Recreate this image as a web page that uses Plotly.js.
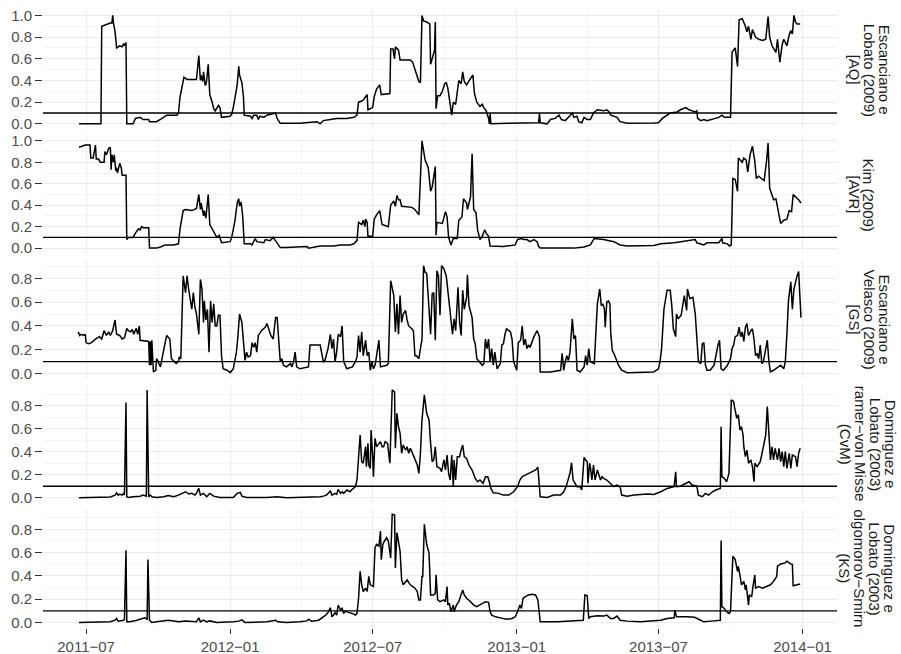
<!DOCTYPE html>
<html>
<head>
<meta charset="utf-8">
<script src="https://cdn.plot.ly/plotly-3.0.1.min.js"></script>
<style>html,body{margin:0;padding:0;background:#fff;}#chart{width:901px;height:654px;}</style>
</head>
<body>
<div id="chart"></div>
<script>
// Day offsets counted from 2011-07-01, value = p-value
const baseDate = '2011-07-01';

const aqPoints = [[-9,0],[19,0],[20,0.90],[26,0.92],[31,0.93],[33,0.93],[34,1.0],[35,0.93],[37,0.85],[39,0.70],[43,0.72],[46,0.71],[48,0.74],[49,0.72],[51,0.75],[52,0.0],[60,0.0],[63,0.05],[69,0.06],[73,0.04],[80,0.04],[81,0.02],[90,0.02],[97,0.05],[101,0.07],[103,0.08],[116,0.08],[118,0.10],[120,0.25],[124,0.40],[125,0.43],[129,0.41],[141,0.41],[144,0.63],[146,0.40],[147,0.45],[149,0.39],[150,0.48],[152,0.36],[153,0.36],[154,0.40],[156,0.55],[158,0.27],[161,0.20],[163,0.14],[165,0.12],[169,0.17],[171,0.15],[173,0.06],[184,0.07],[186,0.09],[188,0.15],[190,0.25],[193,0.36],[195,0.53],[196,0.45],[199,0.38],[201,0.25],[202,0.08],[210,0.07],[212,0.05],[214,0.08],[218,0.08],[220,0.04],[222,0.07],[227,0.06],[231,0.08],[239,0.09],[242,0.10],[244,0.05],[248,0.005],[273,0.005],[286,0.01],[295,0.02],[299,0.0],[303,0.03],[312,0.04],[320,0.05],[333,0.05],[342,0.06],[346,0.08],[348,0.20],[352,0.21],[354,0.22],[357,0.25],[359,0.27],[360,0.13],[366,0.15],[368,0.25],[371,0.32],[375,0.36],[377,0.27],[388,0.28],[389,0.69],[392,0.69],[394,0.60],[395,0.71],[399,0.68],[401,0.59],[414,0.59],[417,0.57],[420,0.50],[425,0.39],[427,0.38],[429,1.0],[431,0.95],[435,0.94],[439,0.92],[440,0.55],[442,0.60],[445,0.68],[446,0.94],[447,0.14],[449,0.26],[452,0.26],[455,0.30],[458,0.37],[460,0.38],[462,0.33],[467,0.08],[469,0.20],[472,0.18],[476,0.40],[479,0.37],[481,0.48],[483,0.39],[486,0.36],[491,0.42],[494,0.45],[496,0.28],[499,0.20],[503,0.16],[506,0.18],[508,0.15],[511,0.12],[514,0.05],[515,0.0],[516,0.10],[517,0.0],[538,0.005],[567,0.01],[578,0.01],[579,0.10],[580,0.01],[589,0.0],[593,0.04],[599,0.05],[604,0.08],[607,0.04],[612,0.03],[616,0.06],[621,0.10],[623,0.06],[627,0.07],[629,0.02],[633,0.01],[636,0.06],[640,0.04],[644,0.04],[648,0.10],[653,0.13],[661,0.12],[665,0.13],[668,0.11],[670,0.08],[678,0.06],[682,0.02],[691,0.005],[725,0.008],[731,0.01],[736,0.05],[742,0.08],[746,0.10],[755,0.11],[759,0.13],[766,0.15],[770,0.13],[774,0.12],[778,0.11],[780,0.12],[781,0.05],[785,0.03],[789,0.04],[793,0.03],[802,0.05],[808,0.06],[812,0.08],[815,0.06],[823,0.06],[825,0.66],[829,0.70],[832,0.53],[834,0.96],[838,0.97],[842,0.90],[844,0.85],[846,0.90],[849,0.78],[851,0.87],[855,0.80],[859,0.78],[864,0.77],[868,0.78],[871,0.99],[873,0.80],[876,0.72],[881,0.66],[883,0.78],[886,0.57],[889,0.73],[891,0.78],[895,0.72],[898,0.82],[900,0.86],[902,0.83],[904,1.0],[906,0.94],[908,0.92],[912,0.92]];

const avrPoints = [[-9,0.94],[-1,0.96],[5,0.96],[6,0.84],[9,0.84],[12,0.96],[13,0.83],[16,0.83],[18,0.80],[23,0.80],[24,0.90],[26,0.87],[29,0.93],[31,0.94],[32,0.73],[33,0.87],[35,0.80],[36,0.87],[38,0.72],[39,0.75],[40,0.70],[43,0.79],[45,0.75],[46,0.68],[51,0.68],[52,0.08],[54,0.10],[60,0.10],[63,0.14],[67,0.18],[69,0.17],[71,0.20],[73,0.19],[80,0.19],[81,0.0],[90,0.0],[95,0.01],[101,0.03],[112,0.03],[118,0.04],[120,0.18],[124,0.35],[127,0.36],[135,0.35],[141,0.37],[144,0.50],[146,0.36],[147,0.42],[150,0.30],[151,0.35],[153,0.28],[156,0.50],[158,0.22],[161,0.18],[163,0.14],[165,0.12],[167,0.10],[170,0.12],[173,0.05],[184,0.06],[186,0.10],[190,0.25],[193,0.42],[195,0.46],[196,0.39],[198,0.43],[200,0.30],[202,0.04],[210,0.04],[212,0.03],[216,0.09],[218,0.06],[227,0.05],[229,0.08],[235,0.07],[239,0.10],[244,0.05],[248,0.005],[256,0.005],[273,0.01],[282,0.015],[284,0.0],[291,0.01],[299,0.02],[316,0.02],[325,0.03],[337,0.03],[342,0.04],[346,0.07],[348,0.24],[352,0.22],[354,0.26],[356,0.20],[357,0.27],[359,0.24],[360,0.11],[366,0.11],[368,0.27],[371,0.31],[375,0.35],[378,0.22],[386,0.20],[389,0.40],[393,0.44],[395,0.39],[397,0.49],[399,0.45],[401,0.45],[403,0.39],[416,0.38],[420,0.36],[425,0.31],[429,1.0],[433,0.82],[437,0.75],[440,0.53],[442,0.57],[445,0.69],[446,0.76],[447,0.12],[448,0.24],[455,0.23],[457,0.30],[459,0.34],[461,0.29],[463,0.10],[466,0.03],[469,0.09],[474,0.09],[476,0.26],[480,0.29],[482,0.46],[486,0.42],[487,0.36],[491,0.48],[493,0.88],[495,0.36],[498,0.33],[500,0.17],[503,0.08],[506,0.11],[509,0.17],[511,0.14],[514,0.11],[516,0.02],[533,0.015],[548,0.03],[551,0.08],[555,0.09],[559,0.08],[563,0.08],[567,0.06],[572,0.08],[576,0.06],[578,0.015],[580,0.0],[623,0.0],[636,0.01],[644,0.03],[649,0.09],[661,0.08],[668,0.07],[674,0.06],[682,0.03],[691,0.02],[725,0.025],[734,0.04],[751,0.05],[768,0.07],[778,0.08],[780,0.05],[789,0.03],[793,0.05],[808,0.05],[812,0.09],[813,0.05],[819,0.04],[822,0.02],[824,0.03],[826,0.65],[829,0.64],[832,0.53],[833,0.84],[838,0.80],[840,0.84],[843,0.82],[845,0.71],[848,0.87],[851,0.95],[854,0.81],[856,0.65],[859,0.67],[864,0.64],[866,0.63],[869,0.81],[871,0.98],[873,0.56],[876,0.50],[878,0.45],[881,0.46],[883,0.39],[885,0.29],[887,0.23],[891,0.26],[895,0.27],[898,0.35],[901,0.34],[903,0.50],[906,0.48],[910,0.45],[913,0.42]];

const gsPoints = [[-10,0.35],[-8,0.32],[-6,0.33],[-3,0.32],[-1,0.33],[0,0.26],[3,0.25],[7,0.26],[12,0.29],[17,0.31],[20,0.29],[23,0.36],[26,0.32],[29,0.35],[31,0.32],[34,0.36],[37,0.45],[39,0.33],[43,0.32],[46,0.29],[49,0.30],[52,0.38],[54,0.36],[57,0.35],[59,0.37],[61,0.33],[64,0.38],[66,0.33],[68,0.40],[69,0.28],[80,0.27],[81,0.07],[82,0.27],[83,0.07],[84,0.28],[86,0.014],[89,0.028],[90,0.125],[92,0.10],[95,0.056],[97,0.125],[99,0.18],[101,0.26],[103,0.32],[107,0.29],[109,0.125],[115,0.084],[118,0.10],[119,0.14],[121,0.125],[122,0.36],[124,0.82],[127,0.68],[129,0.82],[131,0.71],[133,0.63],[135,0.54],[137,0.68],[139,0.56],[141,0.50],[144,0.33],[146,0.79],[148,0.71],[150,0.43],[151,0.61],[153,0.45],[155,0.54],[157,0.18],[159,0.61],[161,0.43],[163,0.585],[165,0.40],[167,0.40],[169,0.49],[171,0.49],[173,0.15],[175,0.04],[180,0.028],[184,0.008],[188,0.04],[190,0.125],[192,0.18],[194,0.32],[196,0.50],[199,0.43],[201,0.24],[203,0.11],[205,0.18],[207,0.14],[210,0.15],[212,0.26],[214,0.22],[216,0.26],[218,0.18],[220,0.32],[224,0.36],[229,0.39],[231,0.42],[233,0.376],[236,0.32],[239,0.29],[242,0.47],[244,0.47],[246,0.24],[248,0.10],[250,0.125],[252,0.07],[256,0.056],[261,0.084],[263,0.056],[265,0.10],[267,0.18],[269,0.056],[273,0.04],[282,0.056],[284,0.056],[286,0.24],[299,0.24],[301,0.17],[303,0.10],[305,0.11],[307,0.17],[309,0.21],[312,0.33],[314,0.21],[316,0.29],[318,0.10],[320,0.18],[322,0.33],[325,0.31],[327,0.40],[329,0.10],[333,0.04],[340,0.056],[344,0.10],[346,0.14],[348,0.32],[350,0.18],[352,0.35],[354,0.15],[357,0.28],[359,0.15],[361,0.18],[363,0.028],[365,0.10],[367,0.04],[369,0.07],[371,0.15],[374,0.28],[376,0.056],[384,0.07],[386,0.084],[389,0.78],[393,0.655],[395,0.35],[397,0.585],[399,0.33],[401,0.655],[403,0.43],[405,0.50],[408,0.53],[410,0.45],[412,0.40],[416,0.376],[418,0.36],[420,0.15],[422,0.15],[425,0.125],[426,0.18],[428,0.25],[429,0.28],[431,0.906],[433,0.85],[435,0.84],[438,0.54],[440,0.33],[442,0.67],[444,0.68],[446,0.28],[448,0.864],[450,0.82],[452,0.49],[454,0.906],[457,0.88],[460,0.82],[463,0.655],[466,0.49],[468,0.33],[470,0.46],[472,0.36],[475,0.725],[477,0.43],[479,0.32],[481,0.70],[483,0.54],[486,0.64],[487,0.83],[489,0.57],[493,0.47],[495,0.29],[497,0.25],[499,0.125],[501,0.11],[506,0.07],[508,0.084],[510,0.29],[512,0.21],[514,0.29],[516,0.10],[518,0.21],[520,0.07],[522,0.18],[525,0.04],[529,0.084],[531,0.24],[533,0.25],[535,0.33],[537,0.376],[542,0.35],[544,0.29],[546,0.10],[550,0.028],[552,0.26],[555,0.28],[557,0.40],[559,0.24],[561,0.29],[563,0.21],[565,0.24],[567,0.22],[572,0.31],[576,0.36],[579,0.31],[580,0.014],[593,0.014],[606,0.028],[608,0.17],[610,0.028],[612,0.10],[614,0.15],[616,0.11],[618,0.18],[621,0.46],[623,0.29],[625,0.32],[627,0.028],[631,0.014],[636,0.056],[638,0.15],[640,0.07],[642,0.21],[644,0.10],[649,0.084],[650,0.24],[653,0.585],[656,0.71],[658,0.57],[660,0.585],[662,0.54],[663,0.39],[665,0.60],[667,0.61],[669,0.585],[670,0.35],[672,0.195],[674,0.17],[678,0.11],[680,0.07],[684,0.028],[691,0.008],[725,0.014],[731,0.04],[733,0.10],[735,0.21],[738,0.54],[742,0.70],[746,0.70],[748,0.57],[750,0.376],[753,0.31],[754,0.50],[756,0.46],[760,0.49],[763,0.63],[764,0.655],[767,0.53],[768,0.71],[771,0.63],[775,0.64],[778,0.50],[780,0.26],[782,0.10],[785,0.084],[787,0.25],[789,0.26],[791,0.07],[793,0.028],[797,0.028],[802,0.07],[805,0.18],[807,0.24],[809,0.28],[811,0.04],[814,0.028],[819,0.07],[823,0.125],[825,0.21],[827,0.24],[829,0.31],[832,0.32],[834,0.39],[836,0.31],[838,0.35],[840,0.27],[842,0.39],[844,0.42],[846,0.32],[849,0.36],[851,0.376],[853,0.29],[855,0.15],[857,0.17],[859,0.125],[861,0.24],[863,0.084],[865,0.10],[866,0.14],[870,0.28],[872,0.10],[874,0.014],[878,0.028],[887,0.07],[891,0.04],[893,0.10],[895,0.33],[897,0.61],[900,0.77],[902,0.54],[904,0.71],[906,0.77],[908,0.82],[910,0.856],[913,0.47]];

const cvmPoints = [[-9,0],[14,0],[31,0.006],[37,0.023],[39,0.043],[41,0.023],[43,0.032],[46,0.023],[48,0.038],[49,0.023],[51,0.826],[52,0.009],[54,0.003],[60,0.009],[69,0.014],[73,0.023],[77,0.014],[78,0.936],[80,0.009],[82,0.023],[84,0.009],[90,0.003],[99,0.009],[105,0.02],[112,0.009],[118,0.023],[122,0.038],[127,0.052],[131,0.032],[135,0.038],[139,0.023],[141,0.038],[144,0.081],[146,0.023],[150,0.038],[154,0.009],[158,0.038],[163,0.014],[171,0.003],[188,0.003],[193,0.038],[197,0.046],[199,0.014],[205,0.003],[231,0.003],[244,0.009],[256,0],[282,0.003],[299,0.009],[303,0.014],[307,0.023],[312,0.058],[314,0.023],[318,0.038],[320,0.029],[322,0.072],[325,0.038],[327,0.052],[329,0.038],[333,0.067],[337,0.052],[339,0.067],[342,0.081],[344,0.096],[346,0.154],[348,0.33],[350,0.545],[352,0.313],[354,0.30],[357,0.443],[358,0.27],[360,0.472],[361,0.284],[363,0.255],[364,0.588],[366,0.357],[367,0.183],[369,0.516],[371,0.443],[376,0.487],[378,0.443],[380,0.443],[382,0.487],[385,0.472],[388,0.30],[391,0.936],[394,0.92],[395,0.429],[397,0.733],[399,0.617],[401,0.559],[403,0.386],[405,0.458],[408,0.414],[410,0.443],[412,0.386],[414,0.429],[416,0.40],[418,0.371],[423,0.284],[425,0.212],[427,0.386],[429,0.675],[432,0.893],[435,0.733],[438,0.675],[440,0.472],[442,0.313],[444,0.328],[446,0.443],[448,0.27],[452,0.255],[454,0.226],[457,0.33],[459,0.241],[461,0.371],[463,0.212],[465,0.154],[467,0.371],[469,0.096],[470,0.328],[472,0.154],[474,0.357],[477,0.357],[479,0.414],[481,0.458],[483,0.357],[486,0.342],[489,0.284],[493,0.241],[497,0.168],[500,0.139],[503,0.154],[507,0.125],[510,0.183],[513,0.183],[515,0.139],[517,0.081],[520,0.043],[527,0.038],[533,0.023],[540,0.023],[546,0.052],[551,0.096],[554,0.154],[557,0.183],[561,0.197],[565,0.212],[569,0.226],[574,0.241],[577,0.264],[579,0.096],[580,0.009],[589,0.003],[597,0.023],[606,0.023],[610,0.052],[613,0.096],[616,0.154],[618,0.212],[620,0.304],[622,0.154],[627,0.096],[631,0.096],[633,0.067],[636,0.351],[638,0.328],[640,0.313],[641,0.125],[643,0.30],[644,0.27],[646,0.154],[648,0.284],[650,0.154],[653,0.241],[655,0.197],[657,0.154],[659,0.183],[661,0.168],[665,0.154],[670,0.125],[674,0.096],[678,0.11],[682,0.096],[684,0.023],[691,0.014],[700,0.023],[717,0.032],[725,0.029],[734,0.052],[742,0.081],[751,0.096],[753,0.226],[754,0.096],[759,0.10],[766,0.125],[770,0.139],[774,0.11],[780,0.10],[782,0.023],[787,0.009],[791,0.038],[795,0.023],[800,0.052],[804,0.067],[810,0.081],[811,0.617],[812,0.183],[815,0.168],[818,0.139],[821,0.212],[824,0.849],[827,0.835],[828,0.791],[831,0.69],[833,0.719],[835,0.588],[837,0.617],[839,0.545],[840,0.443],[842,0.357],[844,0.414],[846,0.30],[849,0.328],[851,0.27],[853,0.139],[854,0.30],[857,0.27],[861,0.313],[865,0.443],[868,0.545],[870,0.791],[872,0.53],[874,0.328],[876,0.443],[878,0.328],[880,0.429],[883,0.328],[885,0.429],[887,0.313],[889,0.40],[891,0.27],[893,0.40],[895,0.255],[898,0.386],[900,0.255],[902,0.371],[906,0.357],[908,0.27],[910,0.386],[912,0.429]];

const ksPoints = [[-9,0],[18,0],[31,0.006],[37,0.02],[39,0.035],[41,0.012],[48,0.02],[49,0.029],[51,0.62],[52,0.006],[56,0.006],[65,0.02],[71,0.035],[75,0.04],[78,0.029],[79,0.54],[81,0.02],[84,0],[90,0.006],[105,0.02],[112,0.014],[118,0.006],[127,0.014],[141,0.006],[144,0.04],[146,0.006],[150,0.02],[154,0.006],[158,0.014],[167,0],[188,0.006],[195,0.012],[199,0.023],[203,0],[231,0.006],[242,0.02],[245,0.006],[256,0],[273,0.006],[282,0.014],[284,0.029],[288,0.012],[297,0.02],[301,0.035],[303,0.049],[307,0.069],[309,0.087],[312,0.127],[314,0.049],[316,0.064],[318,0.087],[320,0.064],[322,0.15],[325,0.107],[327,0.121],[329,0.078],[331,0.098],[335,0.087],[340,0.078],[344,0.064],[346,0.078],[348,0.208],[350,0.44],[352,0.324],[354,0.266],[357,0.295],[359,0.266],[361,0.396],[363,0.324],[367,0.309],[369,0.642],[371,0.67],[374,0.656],[376,0.786],[377,0.54],[379,0.67],[381,0.70],[384,0.728],[386,0.70],[389,0.555],[391,0.93],[394,0.925],[395,0.468],[397,0.772],[399,0.70],[401,0.613],[403,0.367],[405,0.324],[410,0.367],[414,0.324],[420,0.295],[423,0.266],[425,0.194],[427,0.194],[429,0.396],[430,0.396],[432,0.844],[435,0.67],[438,0.598],[440,0.237],[444,0.237],[446,0.251],[447,0.41],[449,0.194],[452,0.179],[457,0.194],[459,0.179],[461,0.309],[462,0.15],[464,0.165],[466,0.092],[469,0.15],[470,0.092],[473,0.15],[476,0.179],[479,0.237],[481,0.28],[483,0.237],[486,0.208],[491,0.179],[495,0.15],[499,0.136],[503,0.15],[507,0.165],[510,0.179],[514,0.173],[516,0.092],[518,0.064],[523,0.049],[529,0.04],[537,0.029],[544,0.035],[548,0.049],[551,0.092],[554,0.15],[556,0.121],[558,0.208],[561,0.223],[565,0.237],[570,0.243],[574,0.237],[577,0.194],[579,0.02],[580,0.006],[602,0.006],[623,0.014],[635,0.02],[637,0.237],[640,0.231],[642,0.035],[644,0.049],[653,0.058],[661,0.055],[665,0.064],[670,0.035],[674,0.035],[678,0.055],[682,0.02],[691,0.012],[708,0.006],[725,0.012],[734,0.02],[742,0.035],[751,0.04],[752,0.107],[754,0.049],[768,0.049],[777,0.046],[783,0.026],[789,0.006],[798,0.012],[806,0.02],[810,0.02],[811,0.705],[812,0.136],[815,0.121],[818,0.092],[821,0.078],[823,0.092],[826,0.569],[829,0.54],[832,0.44],[833,0.483],[835,0.41],[837,0.324],[840,0.353],[842,0.28],[843,0.324],[846,0.15],[847,0.237],[850,0.223],[852,0.324],[854,0.41],[855,0.295],[859,0.309],[864,0.295],[868,0.309],[874,0.324],[878,0.353],[882,0.396],[883,0.483],[887,0.503],[893,0.512],[895,0.526],[900,0.503],[902,0.50],[903,0.315],[906,0.32],[910,0.33],[912,0.33]];

const stripLabels = [
  ['Escanciano e', 'Lobato (2009)', '[AQ]'],
  ['Kim (2009)', '[AVR]'],
  ['Escanciano e', 'Velasco (2009)', '[GS]'],
  ['Dominguez e', 'Lobato (2003)', 'ramer\u2212von Misse', '(CvM)'],
  ['Dominguez e', 'Lobato (2003)', 'olgomorov\u2212Smirn', '(KS)']
];
const threshold = 0.1;
const xTickDates = ['2011-07-01', '2012-01-01', '2012-07-01', '2013-01-01', '2013-07-01', '2014-01-01'];
const xTickLabels = ['2011\u221207', '2012\u221201', '2012\u221207', '2013\u221201', '2013\u221207', '2014\u221201'];
const xMinorDates = ['2011-04-01', '2011-10-01', '2012-04-01', '2012-10-01', '2013-04-01', '2013-10-01'];
const yTicksHigh = [0, 0.2, 0.4, 0.6, 0.8, 1.0];
const yTicksLow = [0, 0.2, 0.4, 0.6, 0.8];

// ---- build figure ----
const base = Date.parse(baseDate + 'T00:00:00Z');
const toDate = d => new Date(base + d * 86400000).toISOString().slice(0, 10);

const series = [aqPoints, avrPoints, gsPoints, cvmPoints, ksPoints];
const domains = [[0.807, 1.0], [0.606, 0.797], [0.403, 0.595], [0.202, 0.394], [0.0, 0.193]];
const ranges = [[-0.05, 1.05], [-0.05, 1.05], [-0.045, 0.951], [-0.047, 0.983], [-0.047, 0.977]];
const tickSets = [yTicksHigh, yTicksHigh, yTicksLow, yTicksLow, yTicksLow];
const stripPx = [[884, 869, 854], [869, 855], [884, 869, 854], [890, 875, 860, 845], [890, 875, 860, 845]];

const font = 'Liberation Sans, Arial, Helvetica, sans-serif';
const gridCol = '#EBEBEB';

const traces = series.map((pts, i) => ({
  type: 'scatter',
  mode: 'lines',
  x: pts.map(p => toDate(p[0])),
  y: pts.map(p => p[1]),
  xaxis: 'x',
  yaxis: i === 0 ? 'y' : 'y' + (i + 1),
  line: {color: '#000000', width: 1.5},
  hoverinfo: 'skip'
}));

const layout = {
  width: 901, height: 654,
  margin: {l: 43, r: 64, t: 10, b: 26, pad: 0},
  paper_bgcolor: '#ffffff',
  plot_bgcolor: '#ffffff',
  showlegend: false,
  font: {family: font, size: 15, color: '#4D4D4D'},
  xaxis: {
    type: 'date',
    anchor: 'y5',
    range: ['2011-05-07', '2014-02-14'],
    tickmode: 'array',
    tickvals: xTickDates,
    ticktext: xTickLabels,
    ticks: 'outside', ticklen: 5, tickwidth: 1, tickcolor: '#333333',
    showgrid: true, gridcolor: gridCol, gridwidth: 1.1,
    minor: {tickmode: 'array', tickvals: xMinorDates, showgrid: true, gridcolor: gridCol, gridwidth: 0.55, ticks: ''},
    zeroline: false, showline: false,
    tickfont: {family: font, size: 15, color: '#4D4D4D'}
  },
  shapes: [],
  annotations: []
};

for (let i = 0; i < 5; i++) {
  const key = i === 0 ? 'yaxis' : 'yaxis' + (i + 1);
  const ref = i === 0 ? 'y' : 'y' + (i + 1);
  layout[key] = {
    domain: domains[i],
    range: ranges[i],
    anchor: 'x',
    tickmode: 'array',
    tickvals: tickSets[i],
    ticktext: tickSets[i].map(v => v.toFixed(1)),
    ticks: 'outside', ticklen: 7, tickwidth: 1, tickcolor: '#333333',
    showgrid: true, gridcolor: gridCol, gridwidth: 1.1,
    minor: {tick0: 0, dtick: 0.1, showgrid: true, gridcolor: gridCol, gridwidth: 0.55, ticks: ''},
    zeroline: false, showline: false,
    tickfont: {family: font, size: 15, color: '#4D4D4D'}
  };
  layout.shapes.push({
    type: 'line', xref: 'x domain', x0: 0, x1: 1, yref: ref, y0: threshold, y1: threshold,
    line: {color: '#000000', width: 1.4}, layer: 'above'
  });
  stripLabels[i].forEach((txt, j) => {
    const px = stripPx[i][j];
    layout.annotations.push({
      text: txt, showarrow: false, textangle: 90,
      xref: 'paper', x: (px - 43) / 794, xanchor: 'center',
      yref: ref + ' domain', y: 0.5, yanchor: 'middle',
      font: {family: font, size: 15, color: '#1A1A1A'}
    });
  });
}

Plotly.newPlot('chart', traces, layout, {staticPlot: true, displayModeBar: false});
</script>
</body>
</html>
